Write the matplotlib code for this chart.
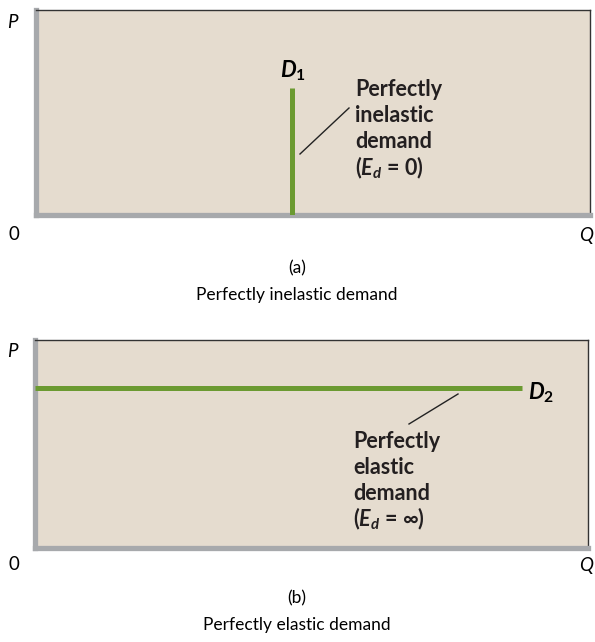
import matplotlib.pyplot as plt
from matplotlib.lines import Line2D

plt.rcParams['font.family'] = ['Lato', 'DejaVu Sans']
plt.rcParams['mathtext.fontset'] = 'custom'
plt.rcParams['mathtext.it'] = 'Lato:italic:bold'
plt.rcParams['mathtext.rm'] = 'Lato:bold'
plt.rcParams['mathtext.bf'] = 'Lato:bold'

W, H = 595, 642
BG = '#e5dccf'
GREEN = '#6b9a31'
GRAY = '#a7a9ac'

# demand curves (quantity, price) on a 0-10 scale
d1_q = [4.62, 4.62]
d1_p = [0, 6.2]
d2_q = [0, 8.8]
d2_p = [7.7, 7.7]

note_a = ['Perfectly', 'inelastic', 'demand', r'($E_d$ = 0)']
note_b = ['Perfectly', 'elastic', 'demand', r'($E_d$ = ∞)']
captions = [('(a)', 'Perfectly inelastic demand'), ('(b)', 'Perfectly elastic demand')]

fig = plt.figure(figsize=(W / 100, H / 100), dpi=100)
fig.patch.set_facecolor('white')


def fx(x):
    return x / W


def fy(y):
    return 1 - y / H


def panel(left, top, right, bottom):
    ax = fig.add_axes([fx(left), fy(bottom), fx(right - left), (bottom - top) / H])
    ax.set_facecolor(BG)
    ax.set_xlim(0, 10)
    ax.set_ylim(0, 10)
    ax.set_xticks([]); ax.set_yticks([])
    for s in ['left', 'bottom']:
        ax.spines[s].set_color(GRAY)
        ax.spines[s].set_linewidth(3.8)
    for s in ['top', 'right']:
        ax.spines[s].set_color('#333333')
        ax.spines[s].set_linewidth(1.0)
    return ax


ax1 = panel(36, 10, 590, 215)
ax1.plot(d1_q, d1_p, color=GREEN, lw=3.6, solid_capstyle='butt', zorder=3)
ax2 = panel(35, 340, 588, 548)
ax2.plot(d2_q, d2_p, color=GREEN, lw=3.6, solid_capstyle='butt', zorder=3)

# leader lines
fig.add_artist(Line2D([fx(300), fx(349)], [fy(154), fy(108)], color='#222222', lw=1.0))
fig.add_artist(Line2D([fx(409), fx(458)], [fy(424), fy(394)], color='#222222', lw=1.0))

# curve labels
fig.text(fx(280), fy(71), r'$D_1$', fontsize=16, ha='left', va='center')
fig.text(fx(528), fy(393), r'$D_2$', fontsize=16, ha='left', va='center')

# notes
for i, s in enumerate(note_a):
    fig.text(fx(355), fy(90 + 26 * i), s, fontsize=15.5, fontweight='bold',
             ha='left', va='center', color='#231f20')
for i, s in enumerate(note_b):
    fig.text(fx(353), fy(441 + 26 * i), s, fontsize=15.5, fontweight='bold',
             ha='left', va='center', color='#231f20')

# axis labels and captions
for top, cap in zip([0, 330], captions):
    fig.text(fx(12), fy(22 + top), 'P', fontsize=13.5, style='italic', ha='center', va='center')
    fig.text(fx(14), fy(235 + top), '0', fontsize=13.5, ha='center', va='center')
    fig.text(fx(586), fy(235 + top), 'Q', fontsize=13.5, style='italic', ha='center', va='center')
    fig.text(fx(297), fy(268 + top), cap[0], fontsize=12.5, ha='center', va='center')
    fig.text(fx(297), fy(295 + top), cap[1], fontsize=12.5, ha='center', va='center')

fig.savefig('out.png', dpi=100)
